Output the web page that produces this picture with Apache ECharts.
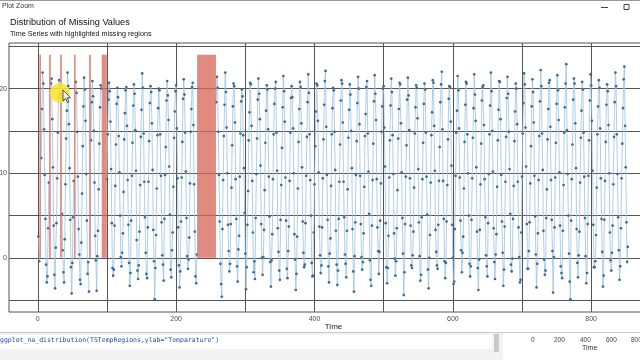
<!DOCTYPE html>
<html>
<head>
<meta charset="UTF-8">
<title>Distribution of Missing Values</title>
<script src="https://cdn.jsdelivr.net/npm/echarts@6/dist/echarts.min.js"></script>
<style>
  html, body { margin: 0; padding: 0; background: #fff; }
  #chart { width: 640px; height: 360px; }
</style>
</head>
<body>
<div id="chart"></div>
<script>
// monthly temperature, one row per year (Jan..Dec), null = missing value
var temperature = [
  2.5, -0.4, null, null, 11.8, 17.6, 21.9, 20.6, 15.2, 9.8, 4.6, -0.8,
  -2.9, -2.2, 3.5, 8.9, null, null, 20.6, 21.2, 16.4, 10.7, 3.8, -2.0,
  -3.6, 1.2, 4.1, 9.4, 14.8, 18.9, 21.0, 19.3, null, null, 5.2, 0.9,
  -1.7, -2.9, 2.2, 8.7, 14.1, 17.4, 21.9, 20.3, 15.8, 10.6, 4.5, -1.1,
  -4.2, -0.6, 4.8, 9.1, null, null, 20.8, 19.5, 14.9, 9.6, 3.4, 0.4,
  -2.6, -3.1, 1.8, 7.6, 13.2, 17.9, 21.3, 19.9, 16.2, 9.9, 4.4, -1.9,
  -0.5, -4.0, null, null, 13.9, 18.4, 20.9, 19.1, 15.0, 8.9, 2.6, -0.3,
  -3.9, 0.2, 3.2, 8.1, 13.5, 17.8, 20.4, 20.0, null, null, null, null,
  null, null, null, 9.3, 14.6, 18.7, 20.7, 19.7, 16.1, 10.5, 4.1, -1.2,
  -2.1, -1.4, 3.8, 8.5, 13.4, 18.2, 20.1, 19.0, 14.4, 10.1, 5.0, 0.1,
  -1.0, 0.6, 2.9, 7.8, 14.0, 17.1, 19.8, 20.2, 15.6, 9.2, 3.9, -0.6,
  -3.3, -1.8, 4.4, 9.7, 13.6, 18.0, 20.5, 19.4, 15.1, 10.3, 2.1, -1.5,
  -2.5, -0.9, 3.1, 8.6, 14.3, 17.5, 21.8, 20.1, 14.7, 9.0, 4.8, 0.6,
  -1.9, -2.4, 3.6, 9.0, 13.8, 18.3, 20.3, 19.6, 15.9, 10.4, 3.3, -0.4,
  -4.9, -1.2, 2.7, 8.2, 14.5, 17.7, 20.0, 19.8, 14.6, 9.7, 4.2, 0.3,
  -0.8, -2.7, 4.6, 9.8, 13.1, 18.6, 20.9, 19.2, 16.3, 10.8, 5.1, -1.4,
  -2.3, 0.9, 3.0, 8.4, 14.2, 17.3, 19.7, 20.4, 15.3, 9.4, 3.6, -0.9,
  -3.5, -1.6, 4.3, 9.5, 13.7, 18.8, 21.1, 19.3, 14.8, 10.2, 4.7, 0.2,
  -1.3, -0.2, 2.4, 8.8, 14.9, 17.6, 20.2, 20.7, 15.7, 8.7, 3.1, -2.2,
  -3.0, 0.4, null, null, null, null, null, null, null, null, null, null,
  null, null, null, null, null, null, null, null, null, null, null, null,
  null, null, null, null, null, 18.4, 21.4, 20.1, 14.9, 9.8, 4.3, -0.7,
  -3.1, -4.6, 3.4, 9.2, 14.4, 18.1, 21.9, 19.6, 15.4, 10.0, 3.9, 0.8,
  -1.6, -0.7, 4.0, 8.3, 13.3, 17.9, 20.6, 20.3, 16.0, 9.3, 4.6, -1.0,
  -2.8, 1.0, 2.6, 9.6, 14.7, 18.5, 19.9, 19.1, 14.5, 10.6, 5.3, 0.5,
  -3.7, -1.1, 3.9, 7.9, 13.9, 17.2, 20.7, 20.5, 15.6, 9.1, 3.0, -1.7,
  -0.4, -2.5, 4.7, 9.9, 14.1, 18.7, 21.2, 19.4, 16.4, 10.9, 4.0, 0.0,
  -2.0, 0.1, 3.3, 8.0, 13.6, 17.4, 20.4, 19.9, 15.2, 9.6, 4.9, -0.5,
  -3.4, -0.3, 2.8, 9.3, 14.6, 18.2, 20.0, 20.8, 14.8, 10.3, 3.5, 0.7,
  -1.5, -2.6, 4.5, 8.6, 13.0, 17.8, 21.5, 19.7, 16.1, 9.5, 4.4, -1.3,
  -2.4, 0.8, 3.7, 9.1, 14.8, 18.9, 20.3, 19.0, 15.3, 10.0, 2.8, -0.2,
  -3.8, -1.9, 2.5, 8.2, 13.7, 17.6, 20.8, 20.2, 15.9, 10.7, 4.3, 0.6,
  -1.1, -0.8, 4.1, 9.7, 14.3, 18.4, 21.7, 19.5, 14.6, 9.2, 5.0, -0.6,
  -2.2, -2.1, 3.0, 8.7, 13.2, 17.3, 20.6, 20.4, 16.2, 10.1, 3.7, 0.3,
  -1.8, -0.9, 3.6, 9.4, 14.0, 18.1, 20.9, 22.1, 15.5, 9.8, 4.5, -1.0,
  -2.9, 0.5, 2.3, 8.5, 14.6, 17.7, 20.1, 19.8, 14.9, 10.4, 3.2, -0.8,
  -3.2, -1.5, 4.6, 9.0, 13.4, 18.6, 21.0, 20.6, 16.0, 9.0, 4.8, 0.4,
  -0.7, -2.3, 3.2, 8.1, 14.2, 17.5, 20.5, 19.3, 15.0, 10.6, 3.4, -1.6,
  -4.0, 0.2, 4.2, 9.8, 13.8, 18.3, 21.4, 20.0, 15.8, 9.7, 4.0, 0.1,
  -1.4, -0.5, 2.9, 8.4, 14.4, 17.0, 20.2, 20.9, 14.7, 10.2, 5.2, -0.3,
  -2.6, -3.3, 3.8, 9.2, 13.5, 18.5, 21.6, 19.4, 16.3, 9.3, 3.6, 0.8,
  -1.9, 0.7, 4.4, 8.8, 14.9, 17.9, 20.0, 20.3, 15.4, 10.8, 4.1, -1.1,
  -3.0, -1.2, 2.6, 9.5, 13.9, 18.0, 21.2, 19.6, 14.5, 9.9, 2.9, -0.1,
  -2.1, -0.4, 3.5, 8.0, 14.1, 17.6, 20.7, 20.5, 15.9, 10.1, 4.7, 0.5,
  -4.4, -1.7, 4.0, 9.6, 13.3, 18.7, 21.3, 19.2, 15.1, 9.4, 3.8, -0.9,
  -1.2, 0.3, 3.1, 8.3, 14.7, 17.8, 20.4, 20.1, 16.5, 10.5, 4.2, 0.2,
  -2.7, -2.0, 4.8, 9.3, 13.6, 18.2, 20.6, 19.9, 14.8, 9.6, 5.1, -1.4,
  -3.6, 0.0, 2.7, 8.9, 14.5, 17.2, 21.0, 20.7, 15.6, 10.3, 3.3, 0.7,
  -0.9, -1.3, 3.9, 9.1, 13.1, 18.4, 20.5, 22.0, 15.2, 9.1, 4.6, -0.4,
  -2.4, -0.6, 4.3, 8.6, 14.0, 18.8, 20.3, 20.2, 16.1, 10.9, 3.9, 0.0,
  -3.1, -2.8, 3.4, 9.7, 14.8, 17.4, 21.5, 19.8, 15.3, 9.5, 4.4, 0.9,
  -1.7, 0.6, 2.5, 8.2, 13.7, 18.1, 20.8, 20.6, 14.6, 10.0, 5.0, -0.7,
  -2.2, -1.0, 4.5, 9.4, 14.2, 17.7, 21.7, 19.3, 16.2, 10.7, 3.1, -1.2,
  -3.8, -0.2, 3.3, 8.7, 13.5, 18.6, 20.2, 20.4, 15.7, 9.3, 4.8, 0.3,
  -1.0, -2.2, 4.1, 9.9, 14.6, 18.0, 21.9, 19.7, 15.0, 10.2, 3.5, -0.5,
  -2.5, 0.4, 2.8, 8.4, 13.9, 17.5, 20.9, 20.8, 16.4, 9.8, 4.3, 0.6,
  -3.3, -1.4, 3.7, 9.0, 14.3, 18.9, 21.4, 19.4, 14.9, 10.5, 5.2, -0.8,
  -1.6, -0.1, 4.6, 8.5, 13.8, 17.3, 20.6, 20.0, 15.8, 9.0, 3.6, 0.1,
  -2.9, -2.6, 3.0, 9.6, 14.7, 18.3, 21.8, 20.5, 15.4, 10.8, 4.0, -1.3,
  -1.3, 0.8, 4.2, 8.8, 13.2, 17.9, 21.1, 19.6, 16.0, 9.7, 4.9, 0.4,
  -3.5, -0.7, 2.9, 9.2, 14.4, 18.5, 22.2, 20.3, 14.7, 10.4, 3.2, -0.2,
  -2.0, -1.5, 4.7, 8.1, 14.0, 17.6, 20.7, 21.0, 15.5, 9.2, 4.5, 0.8,
  -4.1, 0.1, 3.6, 9.5, 13.6, 18.2, 21.6, 19.8, 16.3, 10.1, 3.8, -1.0,
  -1.8, -2.4, 3.2, 8.6, 14.8, 17.8, 20.6, 22.9, 15.1, 9.9, 5.0, 0.5,
  -2.8, -4.9, 4.4, 9.3, 13.4, 18.7, 21.2, 20.6, 15.9, 10.6, 3.4, -0.6,
  -2.3, 0.3, 3.1, 8.9, 14.2, 17.4, 20.8, 19.9, 14.8, 9.6, 4.7, 0.2,
  -3.0, -1.8, 4.0, 9.7, 13.9, 18.6, 21.7, 20.4, 16.2, 10.3, 3.9, -1.1,
  -1.1, -0.4, 2.7, 8.3, 14.6, 17.9, 21.0, 20.1, 15.3, 9.4, 4.6, 0.7,
  -3.4, -2.1, 4.5, 9.1, 13.7, 18.1, 20.5, 19.7, 15.7, 10.0, 3.0, -0.3,
  -1.5, 0.6, 3.8, 8.7, 14.3, 18.4, 21.9, 20.3, 14.6, 9.9, 4.8, 0.9,
  -2.6, -1.0, 3.5, 9.4, 13.5, 17.7, 21.1, 22.6, 15.6, 10.7, 4.2, -0.5,
  1.3
];
var naTop = 24;              // height of the missing-value shading
var xLabels = [0, 200, 400, 600, 800];
var xGrid = [0, 100, 200, 300, 400, 500, 600, 700, 800];
var yLabels = [0, 10, 20];
var yGrid = [-5, 0, 5, 10, 15, 20, 25];
var insetLabels = ['0', '200', '400', '600', '800'];

var points = [];
var missing = [];
for (var i = 0; i < temperature.length; i++) {
  var v = temperature[i];
  points.push([i + 1, v === null ? '-' : v]);
  if (v === null) missing.push([i + 1, naTop]);
}

var gridLines = [];
xGrid.forEach(function (x) { gridLines.push({ xAxis: x }); });
yGrid.forEach(function (y) { gridLines.push({ yAxis: y }); });

var chart = echarts.init(document.getElementById('chart'));
var font = 'Liberation Sans, Arial, sans-serif';

var option = {
  animation: false,
  backgroundColor: '#ffffff',
  grid: {
    left: 9, top: 43, width: 649, height: 269,
    outerBoundsMode: 'none',
    containLabel: false,
    show: true, backgroundColor: '#ffffff',
    borderColor: '#555555', borderWidth: 1
  },
  xAxis: {
    type: 'value',
    min: -41.6, max: 896.6,
    name: 'Time', nameLocation: 'middle', nameGap: 11,
    nameMoveOverlap: false,
    nameTextStyle: { fontFamily: font, fontSize: 8, color: '#222' },
    axisLine: { show: false },
    splitLine: { show: false },
    axisTick: { show: true, length: 3, lineStyle: { color: '#555' }, customValues: xLabels },
    axisLabel: { customValues: xLabels, fontFamily: font, fontSize: 7, color: '#4d4d4d', margin: 4 }
  },
  yAxis: {
    type: 'value',
    min: -6.4, max: 25.4,
    axisLine: { show: false },
    splitLine: { show: false },
    axisTick: { show: true, length: 2, lineStyle: { color: '#555' }, customValues: yLabels },
    axisLabel: { customValues: yLabels, fontFamily: font, fontSize: 7, color: '#4d4d4d', margin: 2 }
  },
  series: [
    {
      type: 'custom',
      z: 4,
      data: missing,
      encode: { x: 0, y: 1 },
      renderItem: function (params, api) {
        var x = api.value(0);
        var a = api.coord([x - 0.5, api.value(1)]);
        var b = api.coord([x + 0.5, 0]);
        return {
          type: 'rect',
          shape: { x: a[0], y: a[1], width: b[0] - a[0], height: b[1] - a[1] },
          style: { fill: '#d8695b' }
        };
      },
      markLine: {
        z: 1,
        silent: true,
        symbol: ['none', 'none'],
        label: { show: false },
        lineStyle: { color: '#555555', width: 1, type: 'solid' },
        data: gridLines
      }
    },
    {
      type: 'line',
      z: 3,
      data: points,
      connectNulls: false,
      showSymbol: true,
      showAllSymbol: true,
      symbol: 'circle',
      symbolSize: 2.7,
      sampling: null,
      lineStyle: { color: '#9ac1de', width: 0.8 },
      itemStyle: { color: '#3a6c96' }
    }
  ],
  graphic: [
    // window title bar
    { type: 'rect', z: 100, shape: { x: 0, y: 0, width: 640, height: 1 }, style: { fill: '#9a9a9a' } },
    { type: 'text', z: 100, left: 2, top: 3, style: { text: 'Plot Zoom', font: '7px ' + font, fill: '#333' } },
    { type: 'line', z: 100, shape: { x1: 601, y1: 7.5, x2: 608, y2: 7.5 }, style: { stroke: '#444', lineWidth: 1 } },
    { type: 'rect', z: 100, shape: { x: 624, y: 4.5, width: 5, height: 5 }, style: { fill: 'none', stroke: '#444', lineWidth: 1 } },
    // titles
    { type: 'text', z: 100, left: 10, top: 18, style: { text: 'Distribution of Missing Values', font: '9.2px ' + font, fill: '#111' } },
    { type: 'text', z: 100, left: 10, top: 31, style: { text: 'Time Series with highlighted missing regions', font: '7.2px ' + font, fill: '#111' } },
    // cursor highlight
    { type: 'circle', z: 100, shape: { cx: 60, cy: 93, r: 10 }, style: { fill: 'rgba(248,228,50,0.88)' } },
    { type: 'polygon', z: 101, shape: { points: [[63, 90], [63, 101], [65.5, 98.5], [67.5, 102.5], [69, 101.8], [67, 97.8], [70.5, 97.8]] }, style: { fill: '#fff', stroke: '#222', lineWidth: 0.8 } },
    // console strip below the plot window
    { type: 'rect', z: 100, shape: { x: 0, y: 332, width: 640, height: 28 }, style: { fill: '#f3f3f3' } },
    { type: 'rect', z: 100, shape: { x: 0, y: 332, width: 640, height: 1 }, style: { fill: '#c8c8c8' } },
    { type: 'rect', z: 100, shape: { x: 0, y: 335, width: 492, height: 14 }, style: { fill: '#ffffff' } },
    { type: 'text', z: 101, left: 0, top: 337, style: { text: 'ggplot_na_distribution(TSTempRegions,ylab="Temparature")', font: '6.5px DejaVu Sans Mono, monospace', fill: '#1f4fa8' } },
    { type: 'rect', z: 100, shape: { x: 494, y: 334, width: 5, height: 18 }, style: { fill: '#c9c9c9' } },
    { type: 'rect', z: 100, shape: { x: 503, y: 333, width: 137, height: 27 }, style: { fill: '#ffffff' } },
    { type: 'text', z: 101, left: 531, top: 337, style: { text: insetLabels[0], font: '6.5px ' + font, fill: '#444' } },
    { type: 'text', z: 101, left: 554, top: 337, style: { text: insetLabels[1], font: '6.5px ' + font, fill: '#444' } },
    { type: 'text', z: 101, left: 580, top: 337, style: { text: insetLabels[2], font: '6.5px ' + font, fill: '#444' } },
    { type: 'text', z: 101, left: 606, top: 337, style: { text: insetLabels[3], font: '6.5px ' + font, fill: '#444' } },
    { type: 'text', z: 101, left: 631, top: 337, style: { text: insetLabels[4], font: '6.5px ' + font, fill: '#444' } },
    { type: 'text', z: 101, left: 582, top: 345, style: { text: 'Time', font: '7px ' + font, fill: '#333' } }
  ]
};

chart.setOption(option);
</script>
</body>
</html>
